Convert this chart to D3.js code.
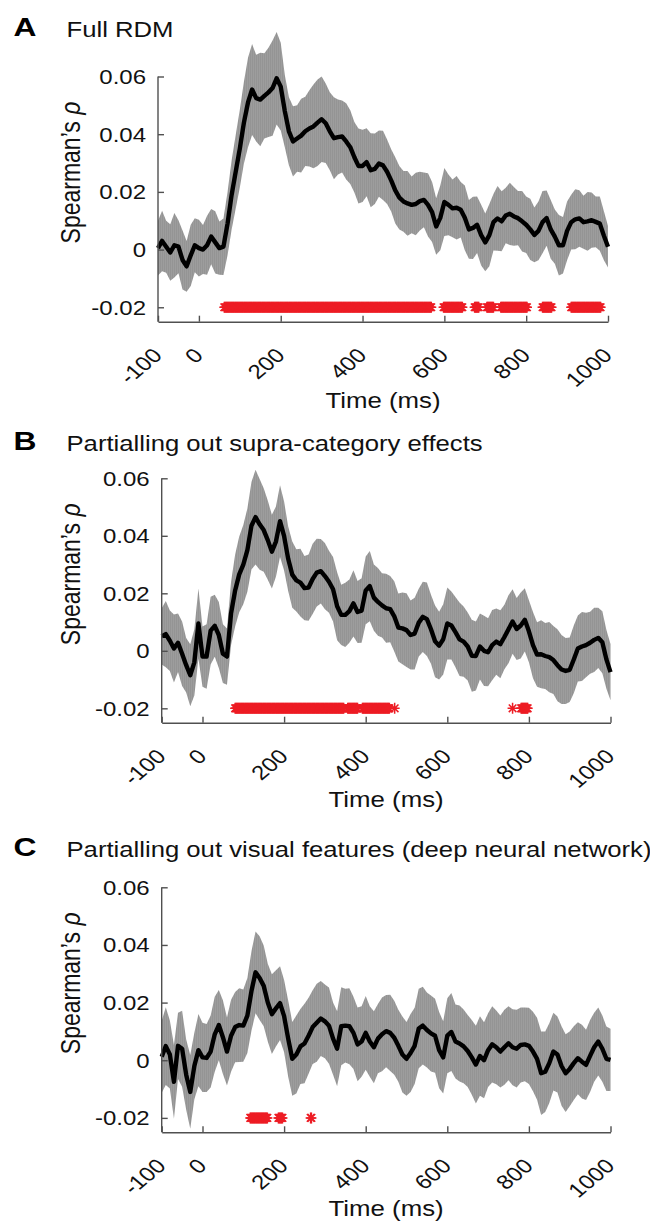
<!DOCTYPE html>
<html>
<head>
<meta charset="utf-8">
<script src="https://cdnjs.cloudflare.com/ajax/libs/d3/7.8.5/d3.min.js"></script>
<style>
	body { margin: 0; background: #fff; }
	svg { display: block; font-family: "Liberation Sans", Arial, Helvetica, sans-serif; }
</style>
</head>
<body>
<div id="figure"></div>
<script>
'use strict'

// sample times (ms), one value every 10 ms
var TIMES = d3.range(-100, 1001, 10);
var X_TICKS = [-100, 0, 200, 400, 600, 800, 1000];
var X_TICK_LABELS = ['-100', '0', '200', '400', '600', '800', '1000'];
var Y_TICKS = [-0.02, 0, 0.02, 0.04, 0.06];
var Y_TICK_LABELS = ['-0.02', '0', '0.02', '0.04', '0.06'];

var LETTERS = ['A', 'B', 'C'];
var TITLES = [
	'Full RDM',
	'Partialling out supra-category effects',
	'Partialling out visual features (deep neural network)'
];

// A: full RDM
var MEAN_A = [
	0.0005, 0.003, 0.001, -0.001, 0.0015, 0.001, -0.0036, -0.0058, -0.002, 0.0015,
	0.0005, 0.0, 0.0015, 0.0045, 0.0025, 0.0005, 0.001, 0.009, 0.019, 0.027,
	0.035, 0.044, 0.051, 0.0555, 0.0525, 0.052, 0.0533, 0.0545, 0.056, 0.0594,
	0.0565, 0.048, 0.041, 0.0375, 0.0385, 0.0395, 0.041, 0.042, 0.0427, 0.044,
	0.0452, 0.0438, 0.041, 0.0386, 0.039, 0.0392, 0.0375, 0.0355, 0.032, 0.029,
	0.029, 0.0303, 0.0275, 0.028, 0.0298, 0.0292, 0.027, 0.024, 0.0205, 0.018,
	0.0167, 0.016, 0.0155, 0.0158, 0.0168, 0.0172, 0.0155, 0.013, 0.008, 0.011,
	0.0165, 0.0155, 0.0143, 0.0145, 0.0138, 0.011, 0.007, 0.0075, 0.0086, 0.005,
	0.0025, 0.005, 0.0095, 0.0108, 0.0098, 0.0118, 0.0124, 0.0115, 0.0109, 0.0098,
	0.0086, 0.007, 0.0051, 0.0065, 0.0095, 0.0109, 0.007, 0.0045, 0.0015, 0.0015,
	0.0065, 0.0095, 0.0105, 0.0108, 0.0095, 0.0098, 0.0102, 0.0096, 0.009, 0.0048,
	0.001
];
var SEM_A = [
	0.0095, 0.0105, 0.009, 0.0098, 0.0112, 0.0092, 0.0102, 0.0088, 0.0106, 0.0094,
	0.0098, 0.0085, 0.0102, 0.0096, 0.0108, 0.0092, 0.0098, 0.011, 0.012, 0.0128,
	0.0135, 0.0142, 0.0155, 0.0158, 0.015, 0.0162, 0.0148, 0.0155, 0.0165, 0.016,
	0.0152, 0.0125, 0.0118, 0.0122, 0.0115, 0.0128, 0.012, 0.0132, 0.0145, 0.015,
	0.0148, 0.0138, 0.0135, 0.0142, 0.013, 0.0125, 0.0132, 0.0128, 0.0122, 0.013,
	0.0125, 0.0118, 0.0128, 0.0122, 0.0115, 0.012, 0.0112, 0.0108, 0.0115, 0.011,
	0.0105, 0.0112, 0.0098, 0.0108, 0.0102, 0.0095, 0.011, 0.0104, 0.0098, 0.0112,
	0.0118, 0.0105, 0.01, 0.011, 0.0096, 0.0112, 0.0102, 0.0108, 0.0098, 0.0105,
	0.01, 0.0108, 0.0098, 0.0112, 0.0104, 0.0096, 0.0108, 0.0102, 0.0094, 0.0105,
	0.0098, 0.0106, 0.0095, 0.0102, 0.0108, 0.0096, 0.0102, 0.0094, 0.0105, 0.0098,
	0.0102, 0.0095, 0.0104, 0.0098, 0.0092, 0.0102, 0.0096, 0.0088, 0.0094, 0.0085,
	0.0072
];
var SIG_A = [[62, 568], [598, 644], [674, 684], [704, 720], [738, 802], [840, 862], [910, 982]];

// B: supra-category effects partialled out
var MEAN_B = [
	0.005, 0.0058, 0.0035, 0.0008, 0.0028, -0.001, -0.005, -0.0085, -0.004, 0.0095,
	-0.002, -0.002, 0.007, 0.0087, 0.0055, -0.001, -0.002, 0.013, 0.021, 0.0266,
	0.03, 0.035, 0.0435, 0.0465, 0.044, 0.042, 0.0385, 0.0345, 0.038, 0.0451,
	0.0399, 0.032, 0.0265, 0.0245, 0.0237, 0.0218, 0.022, 0.025, 0.0272, 0.0277,
	0.026, 0.024, 0.0214, 0.0155, 0.0125, 0.0125, 0.0138, 0.0165, 0.0135, 0.014,
	0.021, 0.0225, 0.0185, 0.017, 0.0158, 0.0148, 0.0145, 0.012, 0.0081, 0.0078,
	0.0072, 0.0055, 0.006, 0.0098, 0.0118, 0.011, 0.0075, 0.0033, 0.0018, 0.004,
	0.0095, 0.0088, 0.0065, 0.004, 0.0032, 0.0015, -0.0017, -0.0018, 0.0015, 0.0,
	-0.0005, 0.002, 0.0032, 0.0023, 0.0048, 0.0075, 0.0102, 0.0076, 0.0088, 0.0108,
	0.0068, 0.002, -0.0013, -0.0012, -0.0018, -0.0022, -0.0032, -0.005, -0.0065, -0.007,
	-0.0066, -0.003, 0.0008, 0.0015, 0.002, 0.0028, 0.0038, 0.0045, 0.003, -0.003,
	-0.0074
];
var SEM_B = [
	0.0098, 0.0115, 0.0105, 0.0118, 0.0102, 0.0112, 0.0095, 0.0108, 0.0115, 0.0122,
	0.0105, 0.0112, 0.0118, 0.0108, 0.0115, 0.0102, 0.0098, 0.011, 0.0125, 0.0132,
	0.0138, 0.0145, 0.0152, 0.0165, 0.0158, 0.0145, 0.0138, 0.0128, 0.0122, 0.0125,
	0.012, 0.0112, 0.0115, 0.0108, 0.0118, 0.0112, 0.0115, 0.0122, 0.0118, 0.0112,
	0.0115, 0.0108, 0.0112, 0.0118, 0.0105, 0.0112, 0.011, 0.0115, 0.0108, 0.0112,
	0.0118, 0.0122, 0.0115, 0.0118, 0.0112, 0.012, 0.0115, 0.0122, 0.0118, 0.0125,
	0.0128, 0.012, 0.0125, 0.0118, 0.0122, 0.0128, 0.012, 0.0125, 0.0118, 0.0122,
	0.0125, 0.0118, 0.0122, 0.0128, 0.0122, 0.0118, 0.0125, 0.012, 0.0115, 0.0122,
	0.0118, 0.0122, 0.0115, 0.0118, 0.0112, 0.0118, 0.0112, 0.0108, 0.0115, 0.011,
	0.0108, 0.0115, 0.0112, 0.0118, 0.0115, 0.0122, 0.0118, 0.0125, 0.012, 0.0115,
	0.0112, 0.0118, 0.0115, 0.012, 0.0112, 0.0108, 0.0112, 0.0105, 0.0108, 0.0102,
	0.0098
];
var SIG_B = [[80, 346], [356, 380], [392, 458], [471, 471], [760, 760], [781, 797]];

// C: visual features (DNN) partialled out
var MEAN_C = [
	0.0012, 0.0049, 0.002, -0.0075, 0.005, 0.004, -0.005, -0.011, -0.002, 0.0035,
	0.001, 0.0008, 0.003, 0.009, 0.0122, 0.008, 0.003, 0.0085, 0.0115, 0.0122,
	0.012, 0.0155, 0.024, 0.0305, 0.0285, 0.0258, 0.02, 0.016, 0.018, 0.0198,
	0.0153, 0.0075, 0.0005, 0.002, 0.0048, 0.0058, 0.0085, 0.0115, 0.013, 0.0145,
	0.0135, 0.012, 0.0075, 0.004, 0.0118, 0.012, 0.0118, 0.0095, 0.0055, 0.0065,
	0.0095, 0.0065, 0.0045, 0.0075, 0.009, 0.0101, 0.0095, 0.0078, 0.005, 0.002,
	0.0005, 0.0025, 0.005, 0.011, 0.012, 0.0105, 0.0093, 0.0085, 0.0035, 0.001,
	0.0085, 0.0098, 0.0065, 0.0058, 0.0048, 0.0032, 0.001, -0.0015, 0.0015, 0.0,
	0.0035, 0.0055, 0.0045, 0.003, 0.0045, 0.0059, 0.0045, 0.004, 0.0053, 0.0055,
	0.005, 0.003, 0.0005, -0.0045, -0.004, -0.001, 0.003, 0.002, -0.002, -0.0045,
	-0.003, -0.001, 0.0007, -0.0005, -0.0016, 0.0015, 0.0045, 0.0065, 0.004, 0.0005,
	0.0001
];
var SEM_C = [
	0.0125, 0.0135, 0.0118, 0.0128, 0.0115, 0.0132, 0.0122, 0.0128, 0.0115, 0.0125,
	0.012, 0.0118, 0.0125, 0.013, 0.0122, 0.0128, 0.0118, 0.0125, 0.0122, 0.0128,
	0.0125, 0.013, 0.0138, 0.0142, 0.0145, 0.014, 0.0135, 0.0138, 0.0132, 0.0128,
	0.0125, 0.0132, 0.0128, 0.0135, 0.013, 0.0138, 0.0132, 0.0128, 0.0135, 0.013,
	0.0128, 0.0132, 0.0125, 0.013, 0.0135, 0.0128, 0.0132, 0.0125, 0.0128, 0.0122,
	0.0128, 0.0122, 0.0125, 0.012, 0.0128, 0.0125, 0.0132, 0.0128, 0.0125, 0.0132,
	0.0128, 0.0135, 0.0132, 0.0138, 0.0135, 0.013, 0.0132, 0.0128, 0.0132, 0.0125,
	0.013, 0.0135, 0.0128, 0.0132, 0.0128, 0.0125, 0.013, 0.0135, 0.0138, 0.0132,
	0.0128, 0.0132, 0.0128, 0.0125, 0.013, 0.0128, 0.0132, 0.0135, 0.013, 0.0128,
	0.0132, 0.0138, 0.0142, 0.0145, 0.014, 0.0138, 0.0135, 0.0132, 0.0138, 0.0135,
	0.013, 0.0128, 0.0125, 0.0128, 0.0122, 0.0125, 0.012, 0.0118, 0.0115, 0.0112,
	0.0108
];
var SIG_C = [[117, 160], [186, 196], [265, 267]];

var app = {
	init: function(panels, dimensions, stretch) {
		this.stretch = stretch;

		var svg = d3.select('#figure')
			.append('svg')
			.attr('width', dimensions.width)
			.attr('height', dimensions.height);

		var pattern = svg.append('defs').append('pattern')
			.attr('id', 'band-stripes')
			.attr('patternUnits', 'userSpaceOnUse')
			.attr('width', 2)
			.attr('height', 4);
		pattern.append('rect').attr('width', 2).attr('height', 4).attr('fill', '#9d9d9d');
		pattern.append('rect').attr('width', 1).attr('height', 4).attr('fill', '#949494');

		panels.forEach(function(p, i) {
			app.drawPanel(svg, p, i);
		});
	},

	textAt: function(sel, x, y, rotate) {
		return sel.attr('transform',
			'translate(' + x + ',' + y + ') scale(' + app.stretch + ',1)' +
			(rotate ? ' rotate(' + rotate + ')' : ''));
	},

	drawPanel: function(svg, p, i) {
		var x = d3.scaleLinear().domain([-100, 1000]).range([p.left, p.right]);
		var y = d3.scaleLinear().domain([-0.025, 0.06]).range([p.bottom, p.top]);

		var rows = TIMES.map(function(t, k) {
			return { t: t, m: p.mean[k], s: p.sem[k] };
		});

		var g = svg.append('g');

		var area = d3.area()
			.x(function(d) { return x(d.t); })
			.y0(function(d) { return y(d.m - d.s); })
			.y1(function(d) { return y(d.m + d.s); });

		g.append('path')
			.datum(rows)
			.attr('d', area)
			.attr('fill', 'url(#band-stripes)');

		var line = d3.line()
			.x(function(d) { return x(d.t); })
			.y(function(d) { return y(d.m); });

		g.append('path')
			.datum(rows)
			.attr('d', line)
			.attr('fill', 'none')
			.attr('stroke', '#000')
			.attr('stroke-width', 4.4)
			.attr('stroke-linejoin', 'round');

		// significant time points, one asterisk per 2 ms sample
		var stars = [];
		p.sig.forEach(function(iv) {
			d3.range(iv[0], iv[1] + 0.5, 2).forEach(function(t) { stars.push(t); });
		});

		g.append('g').selectAll('path')
			.data(stars)
			.enter().append('path')
			.attr('transform', function(t) { return 'translate(' + x(t) + ',' + y(-0.02) + ')'; })
			.attr('d', 'M0,-5.5V5.5M-5,0H5M-3.8,-3.8L3.8,3.8M-3.8,3.8L3.8,-3.8')
			.attr('stroke', '#ed1c24')
			.attr('stroke-width', 1.5)
			.attr('fill', 'none');

		// axes
		var xAxis = d3.axisBottom(x)
			.tickValues(X_TICKS)
			.tickFormat(function(d, k) { return X_TICK_LABELS[k]; })
			.tickSizeInner(-6)
			.tickSizeOuter(0);

		var yAxis = d3.axisLeft(y)
			.tickValues(Y_TICKS)
			.tickFormat(function(d, k) { return Y_TICK_LABELS[k]; })
			.tickSizeInner(-6)
			.tickSizeOuter(0);

		var gx = g.append('g')
			.attr('transform', 'translate(0,' + p.bottom + ')')
			.call(xAxis);

		var gy = g.append('g')
			.attr('transform', 'translate(' + p.left + ',0)')
			.call(yAxis);

		// y axis runs from 0.06 down to the x axis
		gy.select('.domain')
			.attr('d', 'M0,' + y(0.06) + 'V' + p.bottom);

		[gx, gy].forEach(function(a) {
			a.selectAll('.domain, line')
				.attr('stroke', '#505050')
				.attr('stroke-width', 1.4);
			a.selectAll('text')
				.attr('fill', '#111')
				.attr('font-size', 20)
				.attr('font-family', null);
		});

		gy.selectAll('text')
			.attr('x', null)
			.attr('dy', '0.35em')
			.each(function() { app.textAt(d3.select(this), -12, 0); });

		gx.selectAll('text')
			.attr('y', null)
			.attr('dy', '0.35em')
			.attr('text-anchor', 'end')
			.each(function() { app.textAt(d3.select(this), -1, 30, -45); });

		// labels
		app.textAt(g.append('text'), (p.left + p.right) / 2, p.xLabelY)
			.attr('text-anchor', 'middle')
			.attr('font-size', 21.5)
			.attr('fill', '#111')
			.text('Time (ms)');

		var yl = app.textAt(g.append('text'), 80, p.top + 96, -90)
			.attr('text-anchor', 'middle')
			.attr('font-size', 23)
			.attr('fill', '#111');
		yl.append('tspan').text('Spearman\u2019s ');
		yl.append('tspan').attr('font-style', 'italic').text('\u03c1');

		app.textAt(g.append('text'), 13.5, p.titleY - 1)
			.attr('font-size', 26.5)
			.attr('font-weight', 'bold')
			.attr('fill', '#000')
			.text(LETTERS[i]);

		app.textAt(g.append('text'), 66.5, p.titleY)
			.attr('font-size', 21.4)
			.attr('fill', '#111')
			.text(TITLES[i]);
	}
};

(function() {
	var dimensions = { width: 650, height: 1224 };

	// text in the original figure is stretched sideways
	var stretch = 1.2;

	var panels = [
		{ mean: MEAN_A, sem: SEM_A, sig: SIG_A, top: 76.5, bottom: 321.7, left: 158, right: 608, titleY: 37, xLabelY: 408 },
		{ mean: MEAN_B, sem: SEM_B, sig: SIG_B, top: 478.3, bottom: 722.7, left: 161.7, right: 610.5, titleY: 451, xLabelY: 807 },
		{ mean: MEAN_C, sem: SEM_C, sig: SIG_C, top: 887.3, bottom: 1132.3, left: 161.7, right: 610.5, titleY: 857, xLabelY: 1216 }
	];

	app.init(panels, dimensions, stretch);
})();
</script>
</body>
</html>
